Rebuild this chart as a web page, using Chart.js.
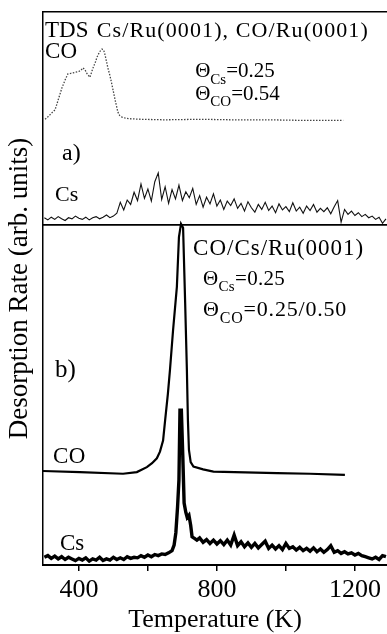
<!DOCTYPE html>
<html>
<head>
<meta charset="utf-8">
<script src="https://cdn.jsdelivr.net/npm/chart.js@4"></script>
<style>
html,body{margin:0;padding:0;background:#fff;}
#wrap{width:387px;height:634px;position:relative;}
</style>
</head>
<body>
<div id="wrap"><canvas id="c"></canvas></div>
<script>
// ---- Data (Temperature in K, desorption rate in arbitrary offset units) ----
const tickValues = [400, 600, 800, 1000, 1200];
const tickLabels = [400, 800, 1200];

// (a) CO from Cs/Ru(0001), CO/Ru(0001) - dotted
const coTopT = [302,308,316,324,331,340,351,360,368,376,383,390,398,405,412,418,424,432,441,447,453,460,467,472,476,484,490,496,505,513,518,525,535,548,580,650,750,850,950,1050,1166];
const coTopRate = [80.6,80.9,81.4,81.9,82.3,84.1,86.3,87.7,88.8,88.9,89.0,89.1,89.2,89.4,89.9,89.5,88.8,88.2,89.9,90.8,91.9,92.8,93.3,93.1,92.2,89.9,88.5,86.8,84.1,81.9,81.3,81.0,80.8,80.7,80.6,80.5,80.6,80.5,80.5,80.4,80.4];

// (a) Cs - noisy
const csTopT = [300,310,320,330,340,350,360,370,380,390,400,410,420,430,440,450,460,470,480,490,500,510,520,530,540,550,560,570,580,590,600,610,620,630,640,650,660,670,680,690,700,710,720,730,740,750,760,770,780,790,800,810,820,830,840,850,860,870,880,890,900,910,920,930,940,950,960,970,980,990,1000,1010,1020,1030,1040,1050,1060,1070,1080,1090,1100,1110,1120,1130,1140,1150,1160,1170,1180,1190,1200,1210,1220,1230,1240,1250,1260,1270,1280,1290];
const csTopRate = [62.8,62.4,62.9,62.5,63.0,62.6,62.3,62.8,62.6,63.1,62.7,62.5,62.9,62.4,62.8,63.0,62.6,62.9,63.3,62.8,63.1,63.6,65.6,64.2,66.0,65.2,67.4,65.9,68.9,66.3,68.0,65.8,69.3,70.9,66.1,68.4,65.4,67.9,66.2,68.7,65.9,67.5,66.4,68.1,65.2,66.8,64.7,66.5,65.3,67.1,64.9,66.0,64.3,65.8,65.0,66.2,64.5,65.4,64.0,65.7,64.6,63.8,65.2,64.3,65.6,64.1,64.9,63.7,65.3,64.2,64.8,63.9,65.5,64.0,64.7,63.6,64.9,64.1,65.2,63.8,64.5,63.9,64.6,63.5,64.8,65.9,62.0,64.3,63.4,64.0,63.2,63.7,63.0,63.4,62.8,63.1,62.5,62.9,61.8,62.6];

// panel divider level
const dividerT = [296, 1293];
const dividerRate = [61.5, 61.5];

// (b) CO from CO/Cs/Ru(0001)
const coBotT = [296,403,528,568,597,612,626,635,644,650,658,664,673,684,690,696,702,708,713,716,719,724,732,760,790,974,1070,1171];
const coBotRate = [17.0,16.8,16.5,16.8,17.7,18.4,19.3,20.5,22.5,26.2,31.0,35.3,42.5,50.3,59.3,61.7,61.0,47.4,35.3,26.2,20.8,18.6,17.8,17.3,16.9,16.6,16.5,16.3];

// (b) Cs - noisy, thick
const csBotT = [300,310,320,330,340,350,360,370,380,390,400,410,420,430,440,450,460,470,480,490,500,510,520,530,540,550,560,570,580,590,600,610,620,630,640,650,660,670,676,681,686,690,693,697,701,705,710,714,719,724,728,735,742,750,760,770,780,790,800,810,820,830,840,850,860,870,880,890,900,910,920,930,940,950,960,970,980,990,1000,1010,1020,1030,1040,1050,1060,1070,1080,1090,1100,1110,1120,1130,1140,1150,1160,1170,1180,1190,1200,1210,1220,1230,1240,1250,1260,1270,1280,1290];
const csBotRate = [1.4,1.7,1.2,1.6,1.1,1.5,1.0,1.4,1.1,0.8,1.2,0.9,1.3,0.7,1.1,0.9,1.4,0.8,1.1,0.9,1.4,1.0,1.3,1.0,1.5,1.2,1.4,1.3,1.7,1.4,1.8,1.5,1.9,1.7,2.0,1.9,2.2,2.6,3.6,5.8,10.5,15.4,28.0,28.0,20.0,11.2,9.5,8.6,9.0,7.2,5.1,4.8,4.5,4.9,4.1,4.6,3.9,4.5,3.8,4.4,3.7,4.5,3.6,5.4,3.5,4.2,3.3,4.0,3.2,3.9,3.1,3.7,4.3,3.0,3.6,2.9,3.5,2.8,3.9,3.0,3.3,2.7,3.2,2.6,3.0,2.5,3.1,2.4,2.9,2.3,2.8,3.5,2.3,2.6,2.1,2.4,2.0,2.2,1.8,2.1,1.7,1.5,1.3,1.1,1.4,1.0,1.7,1.5];

// ---- Annotation texts (placed in data coordinates) ----
const FONT = '"Liberation Serif", "Times New Roman", serif';
const annotations = [
  {parts:[['TDS']], T:302, v:95.5, size:23, ls:0},
  {parts:[['Cs/Ru(0001), CO/Ru(0001)']], T:452, v:95.5, size:22, ls:1.1},
  {parts:[['CO']], T:302, v:91.7, size:23, ls:0},
  {parts:[['\u0398'],['Cs',1],['=0.25']], T:737, v:88.2, size:21, ls:0},
  {parts:[['\u0398'],['CO',1],['=0.54']], T:737, v:84.1, size:21, ls:0},
  {parts:[['a)']], T:351, v:73.2, size:24, ls:0},
  {parts:[['Cs']], T:331, v:65.8, size:22, ls:0},
  {parts:[['CO/Cs/Ru(0001)']], T:731, v:56.1, size:23, ls:1},
  {parts:[['\u0398'],['Cs',1],['=0.25']], T:760, v:50.6, size:21, ls:0.3},
  {parts:[['\u0398'],['CO',1],['=0.25/0.50']], T:760, v:45.0, size:22, ls:0.8},
  {parts:[['b)']], T:331, v:34.0, size:25, ls:0},
  {parts:[['CO']], T:325, v:18.4, size:23, ls:0.5},
  {parts:[['Cs']], T:345, v:2.7, size:23, ls:0}
];

const textPlugin = {
  id: 'texts',
  afterDatasetsDraw(chart) {
    const {ctx, scales:{x, y}} = chart;
    ctx.save();
    ctx.fillStyle = '#000';
    ctx.textAlign = 'left';
    ctx.textBaseline = 'alphabetic';
    for (const a of annotations) {
      let px = x.getPixelForValue(a.T);
      const py = y.getPixelForValue(a.v);
      for (const p of a.parts) {
        const sub = !!p[1];
        const size = sub ? Math.round(a.size * 0.72) : a.size;
        ctx.font = size + 'px ' + FONT;
        if ('letterSpacing' in ctx) ctx.letterSpacing = (a.ls || 0) + 'px';
        ctx.fillText(p[0], px, py + (sub ? a.size * 0.3 : 0));
        px += ctx.measureText(p[0]).width;
      }
    }
    ctx.restore();
  }
};

const pts = (T, R) => T.map((t, i) => ({x: t, y: R[i]}));

new Chart(document.getElementById('c'), {
  type: 'line',
  data: {
    datasets: [
      {label:'CO (a)', data: pts(coTopT, coTopRate), borderColor:'#444', borderWidth:1.3, borderDash:[1.5,1.5], pointRadius:0, fill:false},
      {label:'Cs (a)', data: pts(csTopT, csTopRate), borderColor:'#111', borderWidth:1.1, pointRadius:0, fill:false},
      {label:'divider', data: pts(dividerT, dividerRate), borderColor:'#000', borderWidth:1.6, pointRadius:0, fill:false},
      {label:'CO (b)', data: pts(coBotT, coBotRate), borderColor:'#000', borderWidth:2.2, pointRadius:0, fill:false},
      {label:'Cs (b)', data: pts(csBotT, csBotRate), borderColor:'#000', borderWidth:3.4, pointRadius:0, fill:false}
    ]
  },
  options: {
    responsive: true,
    maintainAspectRatio: false,
    animation: false,
    layout: {padding: {top: 12, right: 0, left: 0, bottom: 0}},
    plugins: {legend: {display: false}, tooltip: {enabled: false}},
    scales: {
      x: {
        type: 'linear', position: 'bottom', min: 296, max: 1293,
        afterBuildTicks: s => { s.ticks = tickValues.map(v => ({value: v})); },
        ticks: {
          autoSkip: false, maxRotation: 0, color: '#000', padding: 4,
          font: {family: FONT, size: 26},
          callback: v => tickLabels.includes(v) ? String(v) : ''
        },
        grid: {drawOnChartArea: false, drawTicks: true, tickLength: 6, color: '#000', lineWidth: 1.5},
        border: {display: true, color: '#000', width: 2},
        title: {display: true, text: 'Temperature (K)', color: '#000', font: {family: FONT, size: 26, lineHeight: 1.1}, padding: {top: 0, bottom: 0}},
        afterFit: s => { s.height = 69; }
      },
      xTop: {
        type: 'linear', position: 'top', min: 296, max: 1293,
        ticks: {display: false}, grid: {display: false},
        border: {display: true, color: '#000', width: 1.5},
        afterFit: s => { s.height = 0; }
      },
      y: {
        min: 0, max: 100,
        ticks: {display: false}, grid: {display: false},
        border: {display: true, color: '#000', width: 1.5},
        title: {display: true, text: 'Desorption Rate (arb. units)', color: '#000', font: {family: FONT, size: 27}, padding: {top: 4, bottom: 4}},
        afterFit: s => { s.width = 43; }
      }
    }
  },
  plugins: [textPlugin]
});
</script>
</body>
</html>
